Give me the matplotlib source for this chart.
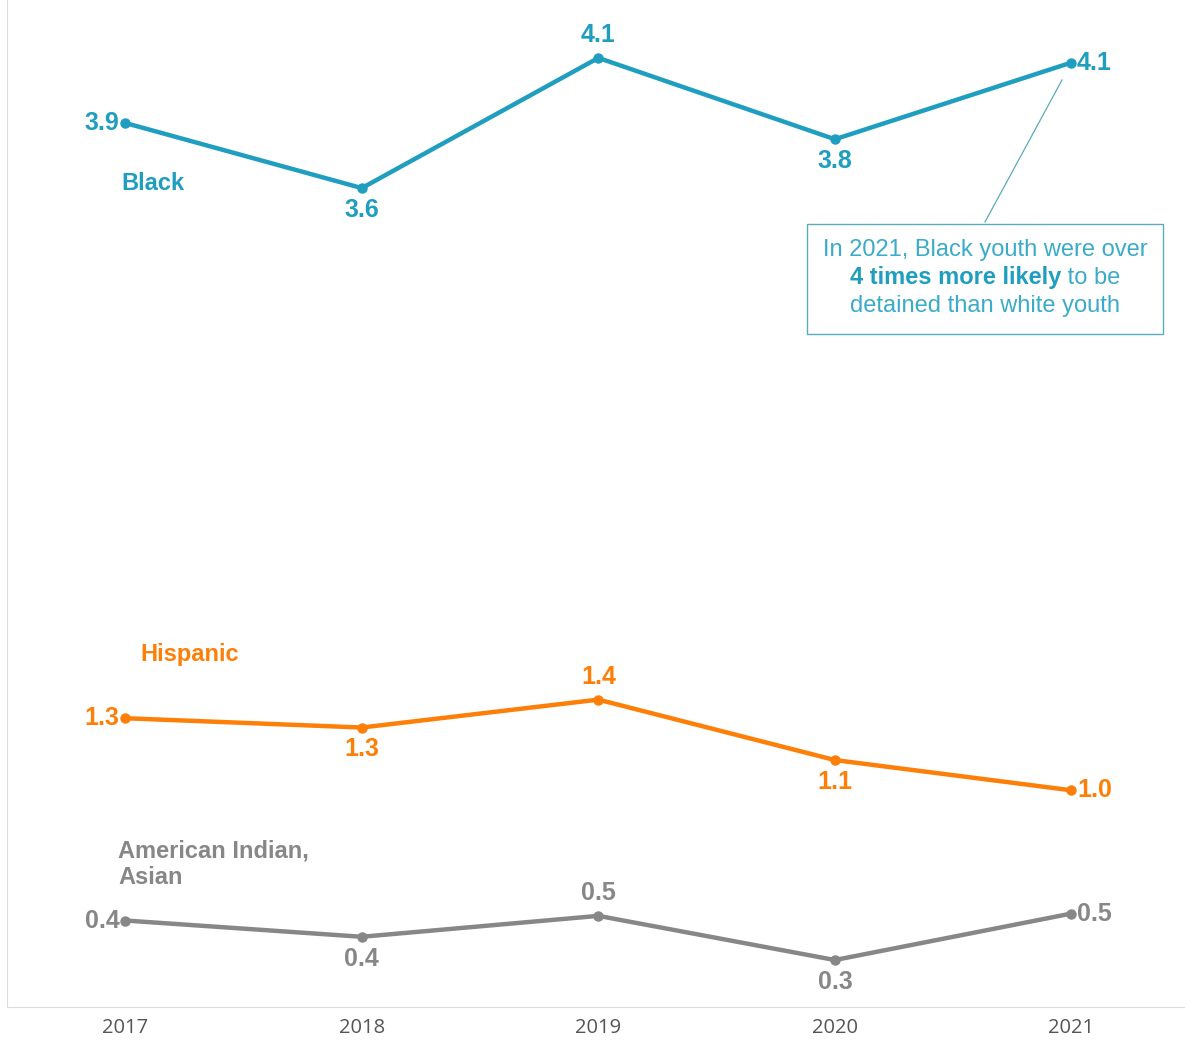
import matplotlib
matplotlib.use("Agg")
import matplotlib.pyplot as plt
from matplotlib.patches import Rectangle

years = [2017, 2018, 2019, 2020, 2021]
black = [3.86, 3.58, 4.14, 3.79, 4.12]
hispanic = [1.30, 1.26, 1.38, 1.12, 0.99]
other = [0.43, 0.36, 0.45, 0.26, 0.46]

teal = "#1f9ec0"
orange = "#fd7f07"
grey = "#878787"

plt.rcParams['font.family'] = ['Liberation Sans', 'DejaVu Sans']

W, H = 1185, 1040
fig = plt.figure(figsize=(W / 100, H / 100), dpi=100)
ax = fig.add_axes([7 / W, 1 - 1007 / H, 1 - 7 / W, 1007 / H])
ax.set_xlim(2016.5, 2021.48)
ax.set_ylim(0.058, 4.389)

# label position for each point: l=left, b=below, a=above, r=right
where = ["l", "b", "a", "b", "r"]

def draw(vals, col):
    ax.plot(years, vals, color=col, lw=3.2, marker="o", ms=6.5, solid_capstyle="round")
    for x, v, w in zip(years, vals, where):
        s = f"{v:.1f}"
        kw = dict(textcoords="offset points", color=col, fontsize=18, fontweight="bold")
        if w == "l":
            ax.annotate(s, (x, v), xytext=(-4, 0), ha="right", va="center", **kw)
        elif w == "r":
            ax.annotate(s, (x, v), xytext=(4, 0), ha="left", va="center", **kw)
        elif w == "a":
            ax.annotate(s, (x, v), xytext=(0, 8), ha="center", va="bottom", **kw)
        else:
            ax.annotate(s, (x, v), xytext=(0, -7), ha="center", va="top", **kw)

draw(black, teal)
draw(hispanic, orange)
draw(other, grey)

def px(x, y):
    return x / W, 1 - y / H

fig.text(*px(121, 184), "Black", color=teal, fontsize=17, fontweight="bold", ha="left", va="center")
fig.text(*px(140, 655), "Hispanic", color=orange, fontsize=17, fontweight="bold", ha="left", va="center")
fig.text(*px(118, 864), "American Indian,\nAsian", color=grey, fontsize=17, fontweight="bold",
         ha="left", va="center", linespacing=1.17)

ax.set_xticks(years)
ax.set_xticklabels([str(y) for y in years], fontsize=14.5, color="#555555", family="Open Sans")
ax.tick_params(axis="x", length=0, pad=8)
ax.set_yticks([])
for s in ["top", "right"]:
    ax.spines[s].set_visible(False)
ax.spines["left"].set_color("#dddddd")
ax.spines["bottom"].set_color("#dddddd")

# callout box
box_col = "#5aabbb"
txt_col = "#3aabc8"
fig.patches.append(Rectangle(px(807, 334), 356 / W, 110 / H,
                             transform=fig.transFigure, fill=False, ec=box_col, lw=1.0))
fig.add_artist(plt.Line2D([985 / W, 1062 / W], [1 - 222 / H, 1 - 80 / H],
                          transform=fig.transFigure, color=box_col, lw=0.9))
cx = 985 / W
fig.text(cx, 1 - 250 / H, "In 2021, Black youth were over", ha="center", va="center",
         color=txt_col, fontsize=17)
fig.text(cx, 1 - 306 / H, "detained than white youth", ha="center", va="center",
         color=txt_col, fontsize=17)
t1 = fig.text(0, 1 - 278 / H, "4 times more likely", ha="left", va="center",
              color=teal, fontsize=17, fontweight="bold")
t2 = fig.text(0, 1 - 278 / H, " to be", ha="left", va="center", color=txt_col, fontsize=17)
r = fig.canvas.get_renderer()
w1 = t1.get_window_extent(r).width / fig.bbox.width
w2 = t2.get_window_extent(r).width / fig.bbox.width
start = cx - (w1 + w2) / 2
t1.set_x(start)
t2.set_x(start + w1)

fig.savefig("out.png", dpi=100)
